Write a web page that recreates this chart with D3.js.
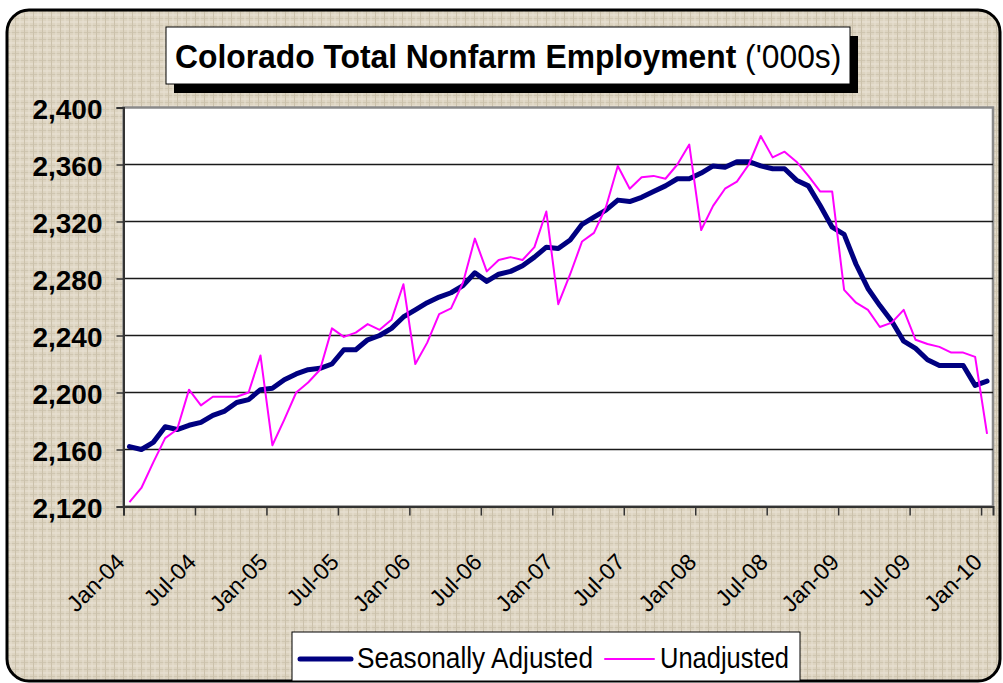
<!DOCTYPE html>
<html>
<head>
<meta charset="utf-8">
<script src="https://cdn.jsdelivr.net/npm/d3@7"></script>
<style>
  body { margin: 0; background: #ffffff; }
  text { font-family: "Liberation Sans", Arial, sans-serif; }
</style>
</head>
<body>
<script>
////// DATEN

// erster Monat der Reihe (Jan-04), ein Wert pro Monat bis Jan-10
var start_month = new Date(2004, 0, 1);

// saisonbereinigt ('000s)
var seasonally_adjusted = [
  2162, 2160, 2165, 2176, 2174, 2177, 2179, 2184, 2187, 2193, 2195, 2202,
  2203, 2209, 2213, 2216, 2217, 2220, 2230, 2230, 2237, 2240, 2245, 2253,
  2258, 2263, 2267, 2270, 2275, 2284, 2278, 2283, 2285, 2289, 2295, 2302,
  2301, 2307, 2318, 2323, 2328, 2335, 2334, 2337, 2341, 2345, 2350, 2350,
  2354, 2359, 2358, 2362, 2362, 2359, 2357, 2357, 2349, 2345, 2331, 2316,
  2311, 2290, 2273, 2261, 2250, 2236, 2231, 2223, 2219, 2219, 2219, 2205,
  2208
];

// nicht bereinigt ('000s)
var unadjusted = [
  2123, 2133, 2151, 2168, 2174, 2202, 2191, 2197, 2197, 2197, 2200, 2226,
  2163, 2181, 2200, 2207, 2216, 2245, 2239, 2242, 2248, 2244, 2251, 2276,
  2220, 2235, 2255, 2259, 2277, 2308, 2285, 2293, 2295, 2293, 2302, 2327,
  2262, 2283, 2306, 2312, 2330, 2359, 2343, 2351, 2352, 2350, 2360, 2374,
  2314, 2331, 2343, 2348, 2360, 2380, 2365, 2369, 2362, 2352, 2341, 2341,
  2272, 2263, 2258, 2246, 2249, 2258, 2237, 2234, 2232, 2228, 2228, 2225,
  2171
];

// Achsenbeschriftungen
var x_tick_labels = ["Jan-04", "Jul-04", "Jan-05", "Jul-05", "Jan-06", "Jul-06", "Jan-07",
  "Jul-07", "Jan-08", "Jul-08", "Jan-09", "Jul-09", "Jan-10"];
var y_tick_values = [2120, 2160, 2200, 2240, 2280, 2320, 2360, 2400];

var series_names = ["Seasonally Adjusted", "Unadjusted"];

////// ZEICHNEN

var width = 1003, height = 683;
var plot_left = 123.5, plot_right = 993, plot_top = 107.5, plot_bottom = 506.5;
var month_count = seasonally_adjusted.length;
var months = d3.timeMonth.range(start_month, d3.timeMonth.offset(start_month, month_count));

var svg = d3.select("body")
.append("svg")
.attr("width", width)
.attr("height", height);

// Leinen-Muster für den Hintergrund
var defs = svg.append("defs");
var linen = defs.append("pattern")
.attr("id", "linen")
.attr("width", 9)
.attr("height", 7)
.attr("patternUnits", "userSpaceOnUse");
linen.append("rect").attr("width", 9).attr("height", 7).style("fill", "#ddd4c1");
[[0, 1, 9, 1, "#ebe5d8"], [0, 4.5, 9, 4.5, "#cfc6b1"], [2, 0, 2, 7, "#e8e1d2"], [6.5, 0, 6.5, 7, "#cbc1ab"]]
.forEach(function(l) {
  linen.append("line")
  .attr("x1", l[0]).attr("y1", l[1]).attr("x2", l[2]).attr("y2", l[3])
  .style("stroke", l[4])
  .style("stroke-width", 1);
});

// Rahmen des ganzen Diagramms
svg.append("rect")
.attr("x", 7)
.attr("y", 10)
.attr("width", 993)
.attr("height", 671)
.attr("rx", 22)
.style("fill", "url(#linen)")
.style("stroke", "#000")
.style("stroke-width", 3);

// Skalen
var x = d3.scaleLinear().domain([0, month_count]).range([plot_left, plot_right]);
var y = d3.scaleLinear().domain([2120, 2400]).range([plot_bottom, plot_top]);

// Zeichenfläche
svg.append("rect")
.attr("x", plot_left)
.attr("y", plot_top)
.attr("width", plot_right - plot_left)
.attr("height", plot_bottom - plot_top)
.style("fill", "#fff")
.style("stroke", "#8a8a8a")
.style("stroke-width", 2.5);

// Gitterlinien
svg.append("g")
.selectAll("line")
.data(y_tick_values.slice(1, -1))
.enter()
.append("line")
.attr("x1", plot_left)
.attr("x2", plot_right)
.attr("y1", function(d) { return y(d); })
.attr("y2", function(d) { return y(d); })
.style("stroke", "#1a1a1a")
.style("stroke-width", 1.3);

// y-Achse
var y_axis = svg.append("g")
.attr("transform", "translate(" + plot_left + ",0)")
.call(d3.axisLeft(y).tickValues(y_tick_values).tickSize(7).tickPadding(14).tickFormat(d3.format(",")));
y_axis.select(".domain").style("stroke", "#333").style("stroke-width", 2);
y_axis.selectAll(".tick line").style("stroke", "#333").style("stroke-width", 1.5);
y_axis.selectAll("text")
.attr("dy", "0.38em")
.style("font-family", "'Liberation Sans', Arial, sans-serif")
.style("font-size", "28px")
.style("font-weight", "bold")
.style("fill", "#000");

// x-Achse: Striche alle 6 Monate an den Kategoriegrenzen
var x_tick_values = d3.range(0, month_count, 6);
var x_axis = svg.append("g")
.attr("transform", "translate(0," + plot_bottom + ")")
.call(d3.axisBottom(x).tickValues(x_tick_values).tickSize(9)
  .tickFormat(function(d, i) { return x_tick_labels[i]; }));
x_axis.select(".domain").style("stroke", "#333").style("stroke-width", 2);
x_axis.selectAll(".tick line").style("stroke", "#333").style("stroke-width", 1.5);
x_axis.selectAll("text")
.attr("x", 0)
.attr("y", 0)
.attr("dy", 0)
.attr("transform", "translate(2,57) rotate(-45)")
.style("text-anchor", "end")
.style("font-family", "'Liberation Sans', Arial, sans-serif")
.style("font-size", "23px")
.style("fill", "#000");

// Linien
var line = d3.line()
.x(function(d, i) { return x(i + 0.5); })
.y(function(d) { return y(d); });

svg.append("path")
.datum(seasonally_adjusted)
.attr("d", line)
.style("fill", "none")
.style("stroke", "#000080")
.style("stroke-width", 5)
.style("stroke-linejoin", "round")
.style("stroke-linecap", "round");

svg.append("path")
.datum(unadjusted)
.attr("d", line)
.style("fill", "none")
.style("stroke", "#ff00ff")
.style("stroke-width", 2)
.style("stroke-linejoin", "round");

// Titel mit Schatten
svg.append("rect")
.attr("x", 174).attr("y", 36).attr("width", 684).attr("height", 57)
.style("fill", "#000");
svg.append("rect")
.attr("x", 166).attr("y", 27).attr("width", 684).attr("height", 57)
.style("fill", "#fff")
.style("stroke", "#000")
.style("stroke-width", 1);

// Titel etwas schmaler gestaucht, wie im Original
var title = svg.append("g")
.attr("transform", "translate(175,68) scale(0.936,1)")
.append("text")
.attr("x", 0)
.attr("y", 0)
.style("font-size", "34px");
title.append("tspan").style("font-weight", "bold").text("Colorado Total Nonfarm Employment");
title.append("tspan").text(" ('000s)");

// Legende
svg.append("rect")
.attr("x", 292).attr("y", 632).attr("width", 508).attr("height", 49)
.style("fill", "#fff")
.style("stroke", "#000")
.style("stroke-width", 1);

var legend_items = [
  { name: series_names[0], color: "#000080", w: 5, x1: 300, x2: 351, tx: 357, tw: 236 },
  { name: series_names[1], color: "#ff00ff", w: 2, x1: 605, x2: 654, tx: 660, tw: 129 }
];
legend_items.forEach(function(it) {
  svg.append("line")
  .attr("x1", it.x1).attr("x2", it.x2).attr("y1", 659).attr("y2", 659)
  .style("stroke", it.color)
  .style("stroke-width", it.w)
  .style("stroke-linecap", "round");
  svg.append("text")
  .attr("x", it.tx)
  .attr("y", 668)
  .attr("textLength", it.tw)
  .attr("lengthAdjust", "spacingAndGlyphs")
  .style("font-size", "29px")
  .text(it.name);
});
</script>
</body>
</html>
